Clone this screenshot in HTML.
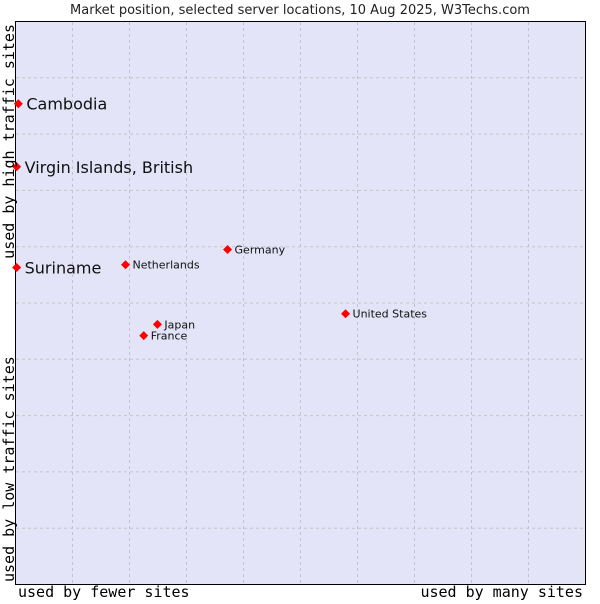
<!DOCTYPE html>
<html><head><meta charset="utf-8"><style>
body{margin:0;background:#fff;width:600px;height:600px;overflow:hidden;font-family:"DejaVu Sans","Liberation Sans",sans-serif}
</style></head><body>
<svg width="600" height="600">
<text x="300" y="14" text-anchor="middle" font-size="13" fill="#222">Market position, selected server locations, 10 Aug 2025, W3Techs.com</text>
<rect x="15.5" y="21.5" width="570" height="563" fill="#e3e4f7" stroke="#000"/>
<g id="grid"></g>
<g id="pts"></g>
<text x="18" y="597" font-family="DejaVu Sans Mono,Liberation Mono,monospace" font-size="15">used by fewer sites</text>
<text x="583" y="597" text-anchor="end" font-family="DejaVu Sans Mono,Liberation Mono,monospace" font-size="15">used by many sites</text>
<text transform="translate(14,582) rotate(-90)" font-family="DejaVu Sans Mono,Liberation Mono,monospace" font-size="15">used by low traffic sites</text>
<text transform="translate(14,24) rotate(-90)" text-anchor="end" font-family="DejaVu Sans Mono,Liberation Mono,monospace" font-size="15">used by high traffic sites</text>
</svg>
<script>
const names=["Cambodia","Virgin Islands, British","Suriname","Netherlands","Germany","Japan","France","United States"];
const xs=[0.5,0.2,0.2,19.3,37.2,24.9,22.5,57.9];
const ys=[85.4,74.2,56.3,56.8,59.5,46.2,44.2,48.1];
const big=[true,true,true,false,false,false,false,false];
const X0=15.5,W=570,Y0=584.5,H=563;
const sx=v=>X0+v/100*W, sy=v=>Y0-v/100*H;
const ns="http://www.w3.org/2000/svg";
const g=document.getElementById('grid');
for(let i=1;i<10;i++){
 const v=document.createElementNS(ns,'line');
 v.setAttribute('x1',sx(i*10));v.setAttribute('x2',sx(i*10));v.setAttribute('y1',22);v.setAttribute('y2',584);
 v.setAttribute('stroke','#c4c4c8');v.setAttribute('stroke-dasharray','3,3');
 
 
 g.appendChild(v);
 const h=document.createElementNS(ns,'line');
 h.setAttribute('y1',sy(i*10));h.setAttribute('y2',sy(i*10));h.setAttribute('x1',16);h.setAttribute('x2',585);
 h.setAttribute('stroke','#c4c4c8');h.setAttribute('stroke-dasharray','3,3');
 
 
 g.appendChild(h);
}
const p=document.getElementById('pts');
names.forEach((n,i)=>{
 const x=sx(xs[i]),y=sy(ys[i]);
 const d=document.createElementNS(ns,'path');
 d.setAttribute('d',`M${x-4.5},${y}L${x},${y-4.5}L${x+4.5},${y}L${x},${y+4.5}Z`);
 d.setAttribute('fill','#f00');
 
 
 p.appendChild(d);
 const t=document.createElementNS(ns,'text');
 t.setAttribute('x',x+(big[i]?8:7));t.setAttribute('y',y+(big[i]?6:4));
 t.setAttribute('font-size',big[i]?16:11);t.setAttribute('fill','#111');
 t.textContent=n;
 
 
 p.appendChild(t);
});
</script>
</body></html>
